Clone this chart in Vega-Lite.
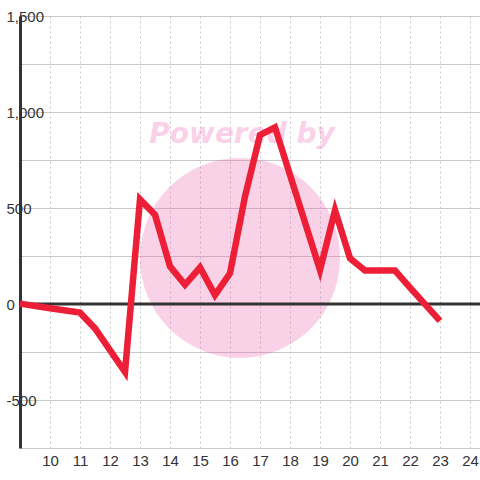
{
  "$schema": "https://vega.github.io/schema/vega-lite/v6.json",
  "width": 460,
  "height": 432,
  "autosize": {"type": "none"},
  "padding": {"left": 20, "top": 16, "right": 0, "bottom": 32},
  "background": "#ffffff",
  "config": {"view": {"stroke": null}, "font": "Liberation Sans",
    "axis": {"labelFontSize": 15, "labelColor": "#333333", "labelFont": "Liberation Sans", "labelOverlap": false, "labelFlush": false, "ticks": false, "title": null}},
  "datasets": {
    "series": [
      {"x": 9, "y": 2},
      {"x": 10, "y": -22},
      {"x": 11, "y": -45},
      {"x": 11.5, "y": -127},
      {"x": 12, "y": -240},
      {"x": 12.5, "y": -354},
      {"x": 13, "y": 545},
      {"x": 13.5, "y": 465},
      {"x": 14, "y": 196},
      {"x": 14.5, "y": 100},
      {"x": 15, "y": 190},
      {"x": 15.5, "y": 47},
      {"x": 16, "y": 160},
      {"x": 16.5, "y": 560},
      {"x": 17, "y": 880},
      {"x": 17.5, "y": 920},
      {"x": 19, "y": 177},
      {"x": 19.5, "y": 488},
      {"x": 20, "y": 238},
      {"x": 20.5, "y": 174},
      {"x": 21.5, "y": 174},
      {"x": 22, "y": 85},
      {"x": 23, "y": -88}
    ],
    "circle": [{"x": 16.333, "y": 240}],
    "caption": [{"x": 16.4, "y": 838, "label": "Powered by"}],
    "zero": [{"x": 9, "x2": 24.3333, "y": 0}]
  },
  "encoding": {
    "x": {"field": "x", "type": "quantitative", "scale": {"domain": [9, 24.3333], "nice": false, "zero": false},
      "axis": {"values": [10, 11, 12, 13, 14, 15, 16, 17, 18, 19, 20, 21, 22, 23, 24], "title": null, "domain": false, "ticks": false,
        "labelFontSize": 15, "labelColor": "#333333", "labelPadding": 5, "labelOverlap": false, "labelFlush": false,
        "grid": true, "gridColor": "#c8c8c8", "gridDash": [2, 3], "gridWidth": 1}},
    "y": {"field": "y", "type": "quantitative", "scale": {"domain": [-750, 1500], "nice": false, "zero": false},
      "axis": {"values": [-750, -500, -250, 0, 250, 500, 750, 1000, 1250, 1500], "title": null,
        "labelExpr": "datum.value % 500 == 0 ? replace(format(datum.value, ','), '\u2212', '-') : ''",
        "domain": true, "domainColor": "#333333", "domainWidth": 3, "ticks": false,
        "labelFontSize": 15, "labelColor": "#333333", "labelAlign": "left", "labelPadding": 14,
        "labelOverlap": false, "labelFlush": false,
        "grid": true, "gridColor": "#c8c8c8", "gridWidth": 1}}
  },
  "layer": [
    {
      "data": {"name": "circle"},
      "mark": {"type": "point", "shape": "circle", "filled": true, "size": 40000, "color": "#f06ab4", "opacity": 0.3, "clip": true}
    },
    {
      "data": {"name": "caption"},
      "mark": {"type": "text", "font": "DejaVu Sans", "fontSize": 28, "fontWeight": "bold", "fontStyle": "italic", "color": "#f06ab4", "opacity": 0.3, "align": "center", "baseline": "alphabetic"},
      "encoding": {"text": {"field": "label"}}
    },
    {
      "data": {"name": "zero"},
      "mark": {"type": "rule", "color": "#333333", "strokeWidth": 3},
      "encoding": {"x2": {"field": "x2"}}
    },
    {
      "data": {"name": "series"},
      "mark": {"type": "line", "color": "#ec1f37", "strokeWidth": 6.5, "strokeJoin": "miter", "strokeCap": "butt"}
    }
  ]
}
